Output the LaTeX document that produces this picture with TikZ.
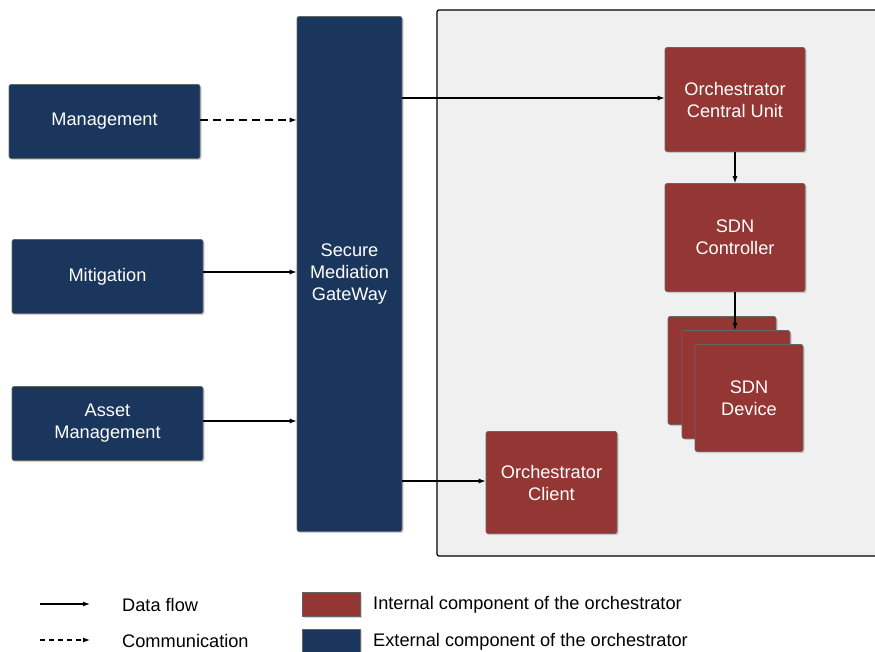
\documentclass[tikz,border=0pt]{standalone}
\usepackage{fontspec}
\setmainfont{Liberation Sans}
\usetikzlibrary{arrows.meta,shadows}
\definecolor{navy}{HTML}{1B365D}
\definecolor{brick}{HTML}{943634}
\definecolor{panel}{HTML}{F0F0F0}
\begin{document}
\begin{tikzpicture}[x=1pt,y=-1pt,
  every node/.style={font=\fontsize{18.2}{22}\selectfont},
  blk/.style={draw=black!60, line width=0.6pt, rounded corners=2pt, text=white, align=center, inner sep=0pt,
    drop shadow={shadow xshift=1.5pt, shadow yshift=-1.5pt, opacity=0.35}},
  ext/.style={blk, fill=navy},
  int/.style={blk, fill=brick},
  flow/.style={-{Latex[length=7pt,width=5pt]}, line width=1.2pt},
  comm/.style={flow, dash pattern=on 8pt off 5pt},
  lbl/.style={anchor=west, inner sep=0pt}]
\useasboundingbox (0,0) rectangle (875,652);
\fill[white] (0,0) rectangle (875,652);
% panel
\draw[fill=panel, line width=1.2pt, rounded corners=2pt] (437,10) rectangle (885,556);
% external
\node[ext, minimum width=191pt, minimum height=74pt] (mgmt) at (104.5,121.5) {Management};
\node[ext, minimum width=191pt, minimum height=74pt] (miti) at (107.5,276.5) {Mitigation};
\node[ext, minimum width=191pt, minimum height=74pt] (asset) at (107.5,423.5) {Asset\\Management};
\node[ext, minimum width=105pt, minimum height=515pt] (gw) at (349.5,274) {Secure\\Mediation\\GateWay};
% internal
\node[int, minimum width=140pt, minimum height=104pt] (ocu) at (735,99.5) {Orchestrator\\Central Unit};
\node[int, minimum width=140pt, minimum height=108pt] (ctrl) at (735,237.5) {SDN\\Controller};
\node[int, minimum width=108pt, minimum height=108pt] (dev1) at (722,370.5) {};
\node[int, minimum width=108pt, minimum height=108pt] (dev2) at (736,384.5) {};
\node[int, minimum width=108pt, minimum height=107pt] (dev3) at (749,398) {SDN\\Device};
\node[int, minimum width=131pt, minimum height=102pt] (cli) at (551.5,482.5) {Orchestrator\\Client};
% connectors
\draw[comm] (mgmt.east |- 0,120) -- (gw.west |- 0,120);
\draw[flow] (miti.east |- 0,272) -- (gw.west |- 0,272);
\draw[flow] (asset.east |- 0,421) -- (gw.west |- 0,421);
\draw[flow] (gw.east |- 0,98) -- (ocu.west |- 0,98);
\draw[flow] (gw.east |- 0,481) -- (cli.west |- 0,481);
\draw[flow] (ocu.south) -- (ctrl.north);
\draw[flow] (ctrl.south) -- (ctrl.south |- dev2.north);
% legend
\coordinate (la1) at (40,604); \coordinate (lb1) at (90,604);
\coordinate (la2) at (40,640); \coordinate (lb2) at (90,640);
\draw[flow] (la1) -- (lb1);
\draw[flow, dash pattern=on 5pt off 4pt] (la2) -- (lb2);
\node[lbl] (tflow) at (122,605) {Data flow};
\node[lbl] (tcomm) at (122,641) {Communication};
\node[int, rounded corners=0pt, minimum width=58pt, minimum height=24pt] (swi) at (331,604) {};
\node[ext, rounded corners=0pt, minimum width=58pt, minimum height=24pt] (swe) at (331,641) {};
\node[lbl] (tint) at (373,605) {Internal component of the orchestrator};
\node[lbl] (text) at (373,642) {External component of the orchestrator};
\end{tikzpicture}
\end{document}
